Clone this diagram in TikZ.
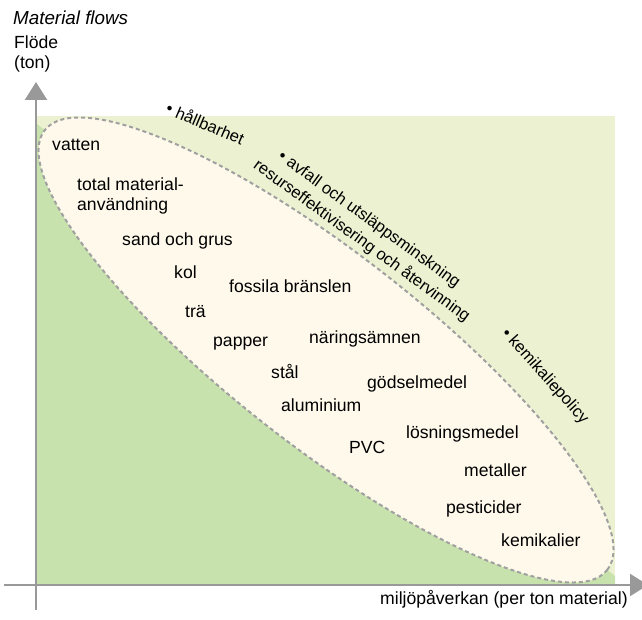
\documentclass[tikz,border=0pt]{standalone}
\usepackage{fontspec}
\setmainfont{Liberation Sans}
\usetikzlibrary{arrows.meta}
\definecolor{lightgreen}{HTML}{ECF2D1}
\definecolor{darkgreen}{HTML}{C8E2AE}
\definecolor{cream}{HTML}{FEF9EB}
\definecolor{axisgray}{HTML}{999999}
\definecolor{dashgray}{HTML}{A0A0A0}
\begin{document}
\begin{tikzpicture}[x=1pt,y=1pt,
  lbl/.style={font=\fontsize{17.6}{20}\selectfont, inner sep=0pt, anchor=base west},
  rlbl/.style={font=\fontsize{16.5}{20}\selectfont, inner sep=0pt, anchor=base west},
  axisline/.style={draw=axisgray, line width=2.3pt, -{Triangle[length=18pt,width=22pt]}}]
\useasboundingbox (0,0) rectangle (642,-620);
% background fields
\fill[lightgreen] (37,-116) rectangle (615,-585);
\fill[darkgreen] (37,-124) -- (615,-576) -- (615,-585) -- (37,-585) -- cycle;
% dashed ellipse
\draw[dashgray, fill=cream, line width=2pt, dash pattern=on 4pt off 3pt,
  rotate around={-38:(326,-350)}] (326,-350) ellipse [x radius=357, y radius=96];
% axes
\coordinate (ybot) at (36,-610);
\coordinate (ytop) at (36,-82);
\coordinate (xleft) at (4,-585);
\coordinate (xright) at (648,-585);
\draw[axisline] (ybot) -- (ytop);
\draw[axisline] (xleft) -- (xright);
% titles
\node[lbl, font=\fontsize{18.8}{20}\selectfont\itshape] (title) at (13,-25) {Material flows};
\node[lbl, anchor=north west, align=left] (ylabel) at (14,-35.4) {Flöde\\(ton)};
\node[lbl] (xlabel) at (380,-604) {miljöpåverkan (per ton material)};
% inner labels
\node[lbl] (vatten) at (52,-151) {vatten};
\node[lbl, anchor=north west, align=left] (totalmat) at (77,-177.4) {total material-\\användning};
\node[lbl] (sand) at (122,-246) {sand och grus};
\node[lbl] (kol) at (174,-278) {kol};
\node[lbl] (fossila) at (229,-292) {fossila bränslen};
\node[lbl] (tra) at (185,-317) {trä};
\node[lbl] (papper) at (213,-346) {papper};
\node[lbl] (naring) at (309,-343) {näringsämnen};
\node[lbl] (stal) at (271,-378) {stål};
\node[lbl] (godsel) at (367,-388) {gödselmedel};
\node[lbl] (aluminium) at (281,-411) {aluminium};
\node[lbl] (losning) at (406,-438) {lösningsmedel};
\node[lbl] (pvc) at (349,-453) {PVC};
\node[lbl] (metaller) at (464,-476) {metaller};
\node[lbl] (pesticider) at (446,-513) {pesticider};
\node[lbl] (kemikalier) at (501,-546) {kemikalier};
% rotated labels
\node[rlbl, rotate=-23] (hallbarhet) at (164.6,-112.9) {• hållbarhet};
\node[rlbl, rotate=-36] (avfall) at (277,-158.5) {• avfall och utsläppsminskning};
\node[rlbl, rotate=-36] (resurs) at (252.5,-167.5) {resurseffektivisering och återvinning};
\node[rlbl, rotate=-48] (kemikaliepolicy) at (500.8,-334) {• kemikaliepolicy};
\end{tikzpicture}
\end{document}
